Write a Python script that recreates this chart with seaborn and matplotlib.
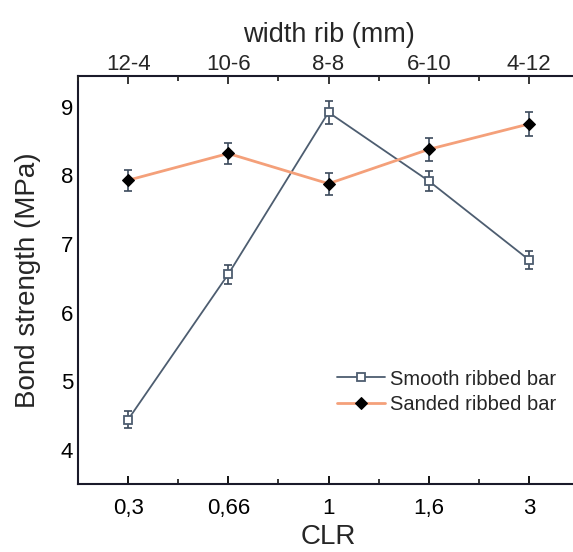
import matplotlib
matplotlib.use("Agg")
import matplotlib.pyplot as plt
import seaborn as sns
import pandas as pd
import numpy as np
from matplotlib.ticker import MultipleLocator

clr_labels = ["0,3", "0,66", "1", "1,6", "3"]
rib_labels = ["12-4", "10-6", "8-8", "6-10", "4-12"]
smooth = [4.44, 6.56, 8.92, 7.92, 6.77]
smooth_err = [0.12, 0.14, 0.17, 0.15, 0.13]
sanded = [7.93, 8.32, 7.88, 8.38, 8.75]
sanded_err = [0.15, 0.16, 0.16, 0.17, 0.17]

sns.set_theme(style="white")
plt.rcParams['font.family'] = ['Liberation Sans', 'DejaVu Sans']

pos = list(range(len(clr_labels)))
df = pd.DataFrame({
    "pos": pos * 2,
    "val": smooth + sanded,
    "series": ["Smooth ribbed bar"] * 5 + ["Sanded ribbed bar"] * 5,
})

fig = plt.figure(figsize=(5.73, 5.52), dpi=100)
ax = fig.add_axes([78/573, 1-484/552, (579-78)/573, (484-76)/552])

line_col = "#4d5d70"
orange = "#f4a07a"
err_col = "#3c4a5c"

ax.errorbar(pos, smooth, yerr=smooth_err, fmt="none", ecolor=err_col, elinewidth=1.2, capsize=3, capthick=1.2, zorder=2)
ax.errorbar(pos, sanded, yerr=sanded_err, fmt="none", ecolor=err_col, elinewidth=1.2, capsize=3, capthick=1.2, zorder=2)

sns.lineplot(data=df[df.series == "Smooth ribbed bar"], x="pos", y="val", ax=ax,
             color=line_col, lw=1.3, marker="s", markersize=6, markerfacecolor="white",
             markeredgecolor=line_col, markeredgewidth=1.3, label="Smooth ribbed bar", zorder=3)
sns.lineplot(data=df[df.series == "Sanded ribbed bar"], x="pos", y="val", ax=ax,
             color=orange, lw=2, marker="D", markersize=6.5, markerfacecolor="black",
             markeredgecolor="black", label="Sanded ribbed bar", zorder=3)

ax.set_xlim(-0.5, 4.5)
ax.set_ylim(3.5, 9.45)
ax.set_xticks(pos)
ax.set_xticklabels(clr_labels)
ax.xaxis.set_minor_locator(MultipleLocator(0.5))
ax.yaxis.set_major_locator(MultipleLocator(1))
ax.yaxis.set_minor_locator(MultipleLocator(0.5))
ax.tick_params(axis="both", which="major", direction="in", length=6, width=1.3, labelsize=16, colors="black")
ax.tick_params(axis="both", which="minor", direction="in", length=3.5, width=1.3)
ax.tick_params(axis="x", pad=10)
for s in ax.spines.values():
    s.set_color("#1a1a2a")
    s.set_linewidth(1.5)
ax.set_xlabel("CLR", fontsize=20, labelpad=4)
ax.set_ylabel("Bond strength (MPa)", fontsize=20, labelpad=14)

ax2 = ax.twiny()
ax2.set_xlim(ax.get_xlim())
ax2.set_xticks(pos)
ax2.set_xticklabels(rib_labels)
ax2.xaxis.set_minor_locator(MultipleLocator(0.5))
ax2.tick_params(axis="x", which="major", direction="in", length=6, width=1.3, labelsize=16, pad=1)
ax2.tick_params(axis="x", which="minor", direction="in", length=3.5, width=1.3)
ax2.set_xlabel("width rib (mm)", fontsize=19.5, labelpad=8.5)
for s in ax2.spines.values():
    s.set_visible(False)

leg = ax.legend(loc="upper left", bbox_to_anchor=(0.48, 0.325), frameon=False, fontsize=14.5,
                handlelength=2.4, handletextpad=0.25, labelspacing=0.3)

fig.savefig("out.png", dpi=100)
